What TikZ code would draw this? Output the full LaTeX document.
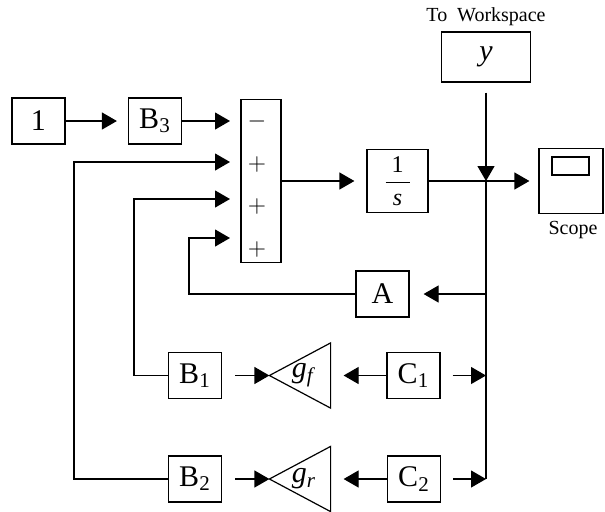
\documentclass[tikz,border=0pt]{standalone}
\usepackage{fontspec}
\setmainfont{Liberation Serif}
\usetikzlibrary{arrows.meta,positioning,calc}
\begin{document}
\begin{tikzpicture}[x=.5pt,y=-.5pt,line width=.6pt,
blk/.style={draw,minimum width=26.5pt,minimum height=23pt,inner sep=0pt,font=\fontsize{15}{15}\selectfont},
gain/.style={minimum width=30pt,minimum height=32pt,inner sep=0pt,font=\fontsize{15}{15}\selectfont},
sgn/.style={inner sep=0pt,font=\fontsize{12}{12}\selectfont},
lbl/.style={inner sep=0pt,font=\fontsize{10}{10}\selectfont},
arr/.style={-{Triangle[length=7.5pt,width=8.5pt]}}]
\useasboundingbox (0,0) rectangle (605,511);
% forward path
\node[blk](one) at (38.5,121){1};\node[blk](b3) at (155,121){B\textsubscript{3}};
\node[draw,minimum width=20pt,minimum height=81.5pt,inner sep=0pt](sum) at (261,181){};
\foreach \s/\y[count=\i] in {$-$/121,$+$/164,$+$/206,$+$/249}\node[sgn](sg\i) at (257,\y){\s};
\foreach \y[count=\i] in {121,162,199,238}\coordinate(in\i) at (241,\y);
\node[blk,minimum width=30.5pt,minimum height=31.5pt,font=\fontsize{12}{12}\selectfont](int) at (397.5,181){$\displaystyle\frac{\makebox[12pt]{1}}{\mbox{\textit{s}}}$};
\node[blk,minimum width=44.5pt,minimum height=25pt](ws) at (486,57){\textit{y}};
\node[lbl](wsl) at (486,17){To\ \ Workspace};
\node[draw,minimum width=32pt,minimum height=32.5pt,inner sep=0pt](scope) at (571,181){};
\draw ($(scope)+(-19,-24)$) rectangle ($(scope)+(18,-6)$);
\node[lbl](scl) at (573,230){Scope};
% feedback blocks
\node[blk](a) at (382.5,294){A};
\node[blk](b1) at (195,375.5){B\textsubscript{1}};
\node[gain](gf) at (300,375.5){\hspace{4pt}\textit{g}\textsubscript{\textit{f}}};
\node[blk](c1) at (413.5,375.5){C\textsubscript{1}};
\node[blk](b2) at (195,479){B\textsubscript{2}};
\node[gain](gr) at (300,479){\hspace{4pt}\textit{g}\textsubscript{\textit{r}}};
\node[blk](c2) at (414,479){C\textsubscript{2}};
\draw(gf.west)--(gf.north east)--(gf.south east)--cycle;
\draw(gr.west)--(gr.north east)--(gr.south east)--cycle;
\coordinate(j) at (486,181);\coordinate(ja) at (486,294);
\coordinate(jc1) at (486,375.5);\coordinate(jc2) at (486,479);
% wires
\draw[arr,shorten >=5.5pt](one)--(b3);\draw[arr,shorten >=5.5pt](b3)--(in1);
\draw[arr,shorten >=6pt](sum)--(int);\draw[arr,shorten >=4.5pt](int)--(scope);
\draw[arr,shorten <=5pt](ws)--(j);\draw(j)--(jc2);
\draw[arr,shorten >=7pt](ja)--(a);
\draw[arr,shorten <=6pt](c1)--(jc1);\draw[arr,shorten <=6pt](c2)--(jc2);
\draw[arr,shorten >=6.5pt](c1)--(gf);\draw[arr,shorten >=6.5pt](c2)--(gr);
\draw[arr,shorten <=6.5pt](b1)--(gf.west);\draw[arr,shorten <=6.5pt](b2)--(gr.west);
\draw[arr,shorten >=5.5pt](a.west)-|([xshift=-26pt]in4)--(in4);
\draw[arr,shorten >=5.5pt](b1.west)-|([xshift=-53.5pt]in3)--(in3);
\draw[arr,shorten >=5.5pt](b2.west)-|([xshift=-83.5pt]in2)--(in2);
\end{tikzpicture}
\end{document}
